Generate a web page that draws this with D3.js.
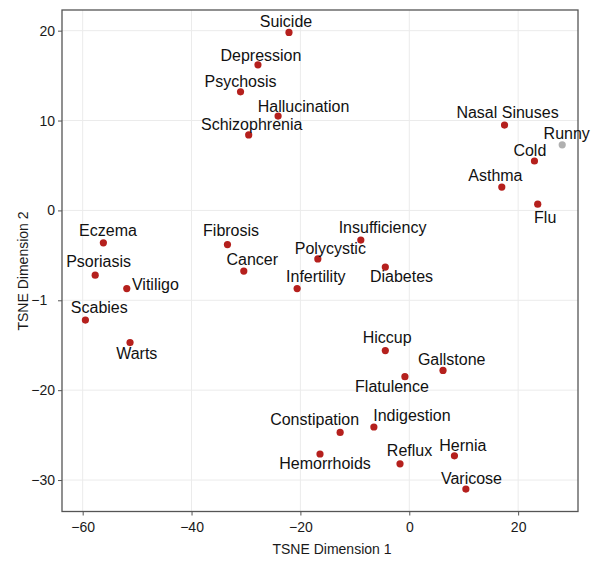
<!DOCTYPE html>
<html>
<head>
<meta charset="utf-8">
<script src="https://cdn.jsdelivr.net/npm/d3@7"></script>
<style>
  html, body { margin: 0; padding: 0; background: #fff; }
  svg { display: block; font-family: "Liberation Sans", Arial, Helvetica, sans-serif; }
</style>
</head>
<body>
<svg id="chart" width="600" height="561"></svg>
<script>
// t-SNE embedding of condition terms
const terms = ["Suicide", "Depression", "Psychosis", "Hallucination", "Schizophrenia",
  "Nasal Sinuses", "Runny", "Cold", "Asthma", "Flu",
  "Eczema", "Psoriasis", "Vitiligo", "Scabies", "Warts",
  "Fibrosis", "Cancer", "Insufficiency", "Polycystic", "Diabetes", "Infertility",
  "Hiccup", "Gallstone", "Flatulence", "Constipation", "Indigestion", "Hemorrhoids",
  "Reflux", "Hernia", "Varicose"];
const dim1 = [-22.1, -27.8, -31.0, -24.1, -29.5,
  17.5, 28.1, 23.0, 17.0, 23.6,
  -56.2, -57.7, -51.9, -59.5, -51.3,
  -33.4, -30.4, -8.9, -16.8, -4.4, -20.6,
  -4.4, 6.2, -0.8, -12.7, -6.5, -16.4,
  -1.7, 8.3, 10.4];
const dim2 = [19.8, 16.2, 13.2, 10.5, 8.4,
  9.5, 7.3, 5.5, 2.6, 0.7,
  -3.6, -7.2, -8.7, -12.2, -14.7,
  -3.8, -6.75, -3.3, -5.4, -6.3, -8.7,
  -15.6, -17.8, -18.5, -24.7, -24.1, -27.1,
  -28.2, -27.3, -31.0];
// the query term is shown muted
const highlighted = terms.map(t => t !== "Runny");

const xTicks = [-60, -40, -20, 0, 20];
const xTickLabels = ["−60", "−40", "−20", "0", "20"];
const yTicks = [-30, -20, -10, 0, 10, 20];
const yTickLabels = ["−30", "−20", "−1", "0", "10", "20"];

// label placement relative to each point (text centre, baseline), in px
const labelDx = [-3, 3, 0, 25.5, 3,
  3, 4.5, -4.6, -6.4, 7.5,
  4.6, 3.4, 28.6, 13.9, 6.7,
  3.6, 8.5, 21.7, 12.5, 16.2, 18.7,
  1.9, 8.7, -12.9, -25.5, 38, 5,
  9.5, 8.4, 5.6];
const labelDy = [-5, -4, -5, -4, -5,
  -7, -5.6, -5.3, -5.7, 18.4,
  -6.3, -7.7, 1.3, -7, 16.7,
  -8.3, -6, -7, -5, 15.4, -6.6,
  -7.6, -5.7, 15, -7.7, -6, 15,
  -7.7, -5, -5];

const points = terms.map((t, i) => ({
  term: t, x: dim1[i], y: dim2[i], on: highlighted[i], dx: labelDx[i], dy: labelDy[i]
}));

const svg = d3.select("#chart");
const plot = { left: 62, top: 10, right: 578, bottom: 511.5 };

const x = d3.scaleLinear().domain([-63.8, 31.0]).range([plot.left, plot.right]);
const y = d3.scaleLinear().domain([-33.5, 22.3]).range([plot.bottom, plot.top]);

// grid
const grid = svg.append("g").attr("stroke", "#ebebeb").attr("stroke-width", 1);
grid.selectAll("line.v").data(xTicks).join("line")
  .attr("x1", d => x(d)).attr("x2", d => x(d))
  .attr("y1", plot.top).attr("y2", plot.bottom);
grid.selectAll("line.h").data(yTicks).join("line")
  .attr("x1", plot.left).attr("x2", plot.right)
  .attr("y1", d => y(d)).attr("y2", d => y(d));

// axes
const tickFont = 14;
const xAxis = d3.axisBottom(x).tickValues(xTicks)
  .tickFormat((d, i) => xTickLabels[i]).tickSize(4).tickSizeOuter(0).tickPadding(3);
const yAxis = d3.axisLeft(y).tickValues(yTicks)
  .tickFormat((d, i) => yTickLabels[i]).tickSize(4).tickSizeOuter(0).tickPadding(3);

const gx = svg.append("g").attr("transform", `translate(0,${plot.bottom})`).call(xAxis);
const gy = svg.append("g").attr("transform", `translate(${plot.left},0)`).call(yAxis);
[gx, gy].forEach(g => {
  g.select(".domain").remove();
  g.selectAll(".tick line").attr("stroke", "#555").attr("stroke-width", 1);
  g.selectAll(".tick text").attr("fill", "#1a1a1a").attr("font-size", tickFont)
    .attr("font-family", "\"Liberation Sans\", Arial, sans-serif");
});
gx.selectAll(".tick text").attr("dy", "0.93em");

// the shortened −10 label keeps the right edge of the full number
const zeroProbe = svg.append("text").attr("font-size", tickFont).text("0");
const zeroW = zeroProbe.node().getComputedTextLength();
zeroProbe.remove();
gy.selectAll(".tick text").filter(d => d === -10).attr("dx", -zeroW);

// panel frame
svg.append("rect")
  .attr("x", plot.left).attr("y", plot.top)
  .attr("width", plot.right - plot.left).attr("height", plot.bottom - plot.top)
  .attr("fill", "none").attr("stroke", "#555").attr("stroke-width", 1.3);

// points
svg.append("g").selectAll("circle").data(points).join("circle")
  .attr("cx", d => x(d.x)).attr("cy", d => y(d.y)).attr("r", 3.6)
  .attr("fill", d => d.on ? "#b5201d" : "#b0b0b0");

// labels
svg.append("g").selectAll("text").data(points).join("text")
  .attr("x", d => x(d.x) + d.dx).attr("y", d => y(d.y) + d.dy)
  .attr("text-anchor", "middle").attr("font-size", 16).attr("fill", "#111")
  .text(d => d.term);

// axis titles
svg.append("text").attr("x", 332).attr("y", 554).attr("text-anchor", "middle")
  .attr("font-size", 14).attr("fill", "#1a1a1a").text("TSNE Dimension 1");
svg.append("text").attr("transform", "translate(28,271) rotate(-90)")
  .attr("text-anchor", "middle").attr("font-size", 14).attr("fill", "#1a1a1a")
  .text("TSNE Dimension 2");
</script>
</body>
</html>
